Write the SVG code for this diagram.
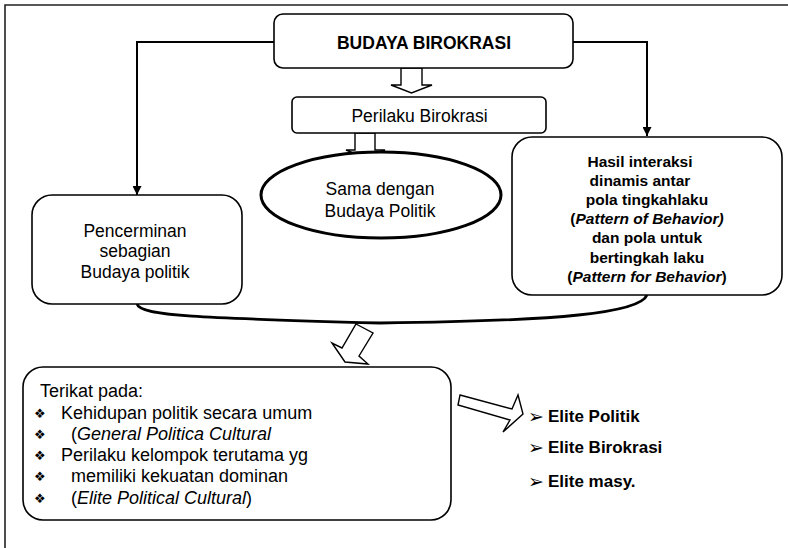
<svg xmlns="http://www.w3.org/2000/svg" width="788" height="548" viewBox="0 0 788 548">
<style>
  .box { fill: #ffffff; stroke: #000000; stroke-width: 1.6; }
  .conn { fill: none; stroke: #000000; stroke-width: 2; }
  .hollow { fill: #ffffff; stroke: #000000; stroke-width: 1.4; stroke-linejoin: miter; }
  .t { font-family: "Liberation Sans", Arial, sans-serif; font-size: 17.5px; fill: #000000; }
  .tl { font-family: "Liberation Sans", Arial, sans-serif; font-size: 18px; fill: #000000; }
  .b { font-family: "Liberation Sans", Arial, sans-serif; font-weight: bold; fill: #000000; }
  .c { text-anchor: middle; }
  .bul { font-family: "DejaVu Sans", sans-serif; font-size: 13px; fill: #000000; }
  .arr { font-family: "DejaVu Sans", sans-serif; font-size: 19px; fill: #000000; }
</style>
<defs>
  <marker id="ah" viewBox="0 0 10 10" refX="10" refY="5" markerWidth="4.5" markerHeight="4.5" orient="auto" markerUnits="strokeWidth">
    <path d="M0,0 L10,5 L0,10 Z" fill="#000000"/>
  </marker>
</defs>
<rect width="788" height="548" fill="#ffffff"/>
<path d="M5,548 V5 H790" fill="none" stroke="#222222" stroke-width="1.6"/>

<g id="connectors">
  <path class="conn" d="M274,42 H137 V195" marker-end="url(#ah)"/>
  <path class="conn" d="M573,42 H647 V136" marker-end="url(#ah)"/>
  <polygon class="hollow" points="401,68 422,68 422,85 432,85 411.5,93 391,85 401,85"/>
  <polygon class="hollow" points="355,133 375,133 375,150 385,150 365,158 346,150 355,150"/>
  <path d="M137,304 C140,316 200,318 380,323 C560,321 640,313 647,295" fill="none" stroke="#000000" stroke-width="2.8"/>
  <polygon class="hollow" points="356,324 373,333 359,356 368,364 345,362 332,343 342,348"/>
  <polygon class="hollow" points="460,395 512,409 518,395 523,414 503,432 510,420 458,405"/>
</g>

<g id="budaya-birokrasi">
  <rect class="box" x="274" y="14" width="299" height="54" rx="9"/>
  <text class="b c" x="424" y="49" font-size="17.5">BUDAYA BIROKRASI</text>
</g>

<g id="perilaku-birokrasi">
  <rect class="box" x="292" y="97" width="254" height="36" rx="5"/>
  <text class="t c" x="419.5" y="122">Perilaku Birokrasi</text>
</g>

<g id="sama-dengan">
  <ellipse cx="381" cy="195" rx="120" ry="43" fill="#ffffff" stroke="#000000" stroke-width="3"/>
  <text class="t c" x="380" y="195">Sama dengan</text>
  <text class="t c" x="380" y="217">Budaya Politik</text>
</g>

<g id="pencerminan">
  <rect class="box" x="32" y="195" width="210" height="109" rx="20"/>
  <text class="t c" x="135" y="237">Pencerminan</text>
  <text class="t c" x="135" y="257">sebagian</text>
  <text class="t c" x="135" y="278">Budaya politik</text>
</g>

<g id="hasil-interaksi">
  <rect class="box" x="512" y="137" width="270" height="158" rx="20"/>
  <text class="b c" font-size="15.5" x="640" y="167">Hasil interaksi</text>
  <text class="b c" font-size="15.5" x="640" y="186">dinamis antar</text>
  <text class="b c" font-size="15.5" x="647" y="205">pola tingkahlaku</text>
  <text class="b c" font-size="15.5" x="647" y="224">(<tspan font-style="italic">Pattern of Behavior)</tspan></text>
  <text class="b c" font-size="15.5" x="647" y="243">dan pola untuk</text>
  <text class="b c" font-size="15.5" x="647" y="263">bertingkah laku</text>
  <text class="b c" font-size="15.5" x="647" y="282">(<tspan font-style="italic">Pattern for Behavior</tspan>)</text>
</g>

<g id="terikat-pada">
  <rect class="box" x="23" y="367" width="428" height="153" rx="20"/>
  <text class="tl" x="40" y="397">Terikat pada:</text>
  <text class="bul" x="34" y="418">❖</text>
  <text class="tl" x="61" y="419">Kehidupan politik secara umum</text>
  <text class="bul" x="34" y="439">❖</text>
  <text class="tl" x="71" y="440">(<tspan font-style="italic">General Politica Cultural</tspan></text>
  <text class="bul" x="34" y="460">❖</text>
  <text class="tl" x="61" y="461">Perilaku kelompok terutama yg</text>
  <text class="bul" x="34" y="481">❖</text>
  <text class="tl" x="71" y="482">memiliki kekuatan dominan</text>
  <text class="bul" x="34" y="503">❖</text>
  <text class="tl" x="71" y="504">(<tspan font-style="italic">Elite Political Cultural</tspan>)</text>
</g>

<g id="elite-list">
  <text class="arr" x="528" y="423">➢</text>
  <text class="b" font-size="17" x="548" y="422">Elite Politik</text>
  <text class="arr" x="528" y="454">➢</text>
  <text class="b" font-size="17" x="548" y="453">Elite Birokrasi</text>
  <text class="arr" x="528" y="488">➢</text>
  <text class="b" font-size="17" x="548" y="487">Elite masy.</text>
</g>
</svg>
